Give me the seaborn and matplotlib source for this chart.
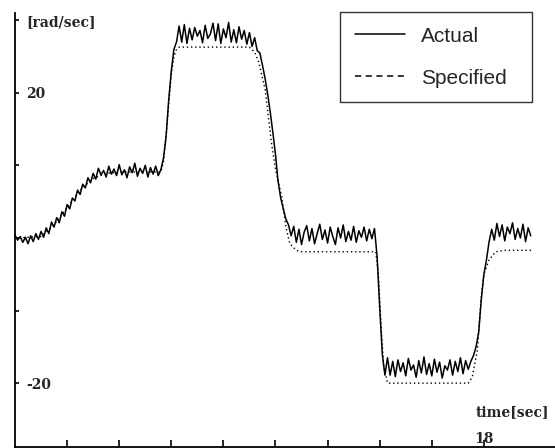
import numpy as np
import pandas as pd
import seaborn as sns
import matplotlib
matplotlib.use('Agg')
import matplotlib.pyplot as plt
from matplotlib.lines import Line2D

# 实测角速度 (rad/sec)，每0.1秒一个采样点，从0秒开始
sample_step = 0.1
actual = [
    0.4, -0.3, 0.2, -0.6, 0.1, -0.8, 0.3, -0.5, 0.6, -0.2,
    0.9, 0.1, 1.4, 0.6, 2.2, 1.5, 2.8, 2.1, 3.6, 3.0,
    4.6, 4.0, 5.5, 5.1, 6.6, 6.0, 7.4, 6.9, 8.3, 7.6,
    8.9, 8.1, 9.6, 8.7, 9.3, 8.4, 9.9, 8.8, 9.5, 8.6,
    10.1, 8.7, 9.4, 8.3, 9.8, 9.0, 10.3, 8.5, 9.6, 8.9,
    10.0, 8.4, 9.7, 8.8, 9.9, 8.6, 9.4, 11.0, 14.0, 19.0,
    23.0, 26.0, 27.0, 29.2, 27.0, 29.4, 26.8, 28.9, 27.3, 29.0,
    27.8, 28.6, 26.9, 29.3, 27.5, 28.1, 29.6, 27.2, 29.5, 26.8,
    28.8, 27.6, 29.7, 27.0, 28.7, 26.9, 29.1, 27.4, 28.6, 26.7,
    28.3, 26.4, 27.6, 25.8, 25.5, 23.8, 22.0, 19.8, 17.3, 14.5,
    11.5, 7.8, 5.5, 4.0, 2.6, 1.8, 0.3, 1.6, -0.6, 1.2,
    -0.9, 0.8, 1.7, -0.4, 1.3, -0.8, 0.6, 1.9, -0.2, 1.1,
    -0.7, 1.5, 0.2, -0.9, 1.4, 0.0, 1.8, -0.5, 0.9, -0.3,
    1.6, -0.6, 1.0, 0.1, 1.5, -0.4, 1.2, -0.1, 1.3, -2.5,
    -9.5, -16.0, -18.9, -16.5, -18.9, -17.0, -19.1, -16.8, -18.4, -17.2,
    -19.0, -16.6, -18.2, -17.5, -19.2, -16.9, -18.6, -16.4, -18.8, -17.3,
    -19.0, -16.7, -18.5, -17.1, -19.3, -17.6, -18.2, -16.8, -18.9, -17.0,
    -18.4, -16.5, -18.7, -16.9, -18.1, -17.0, -16.2, -15.0, -13.0, -8.5,
    -5.0, -3.0, -0.5, 1.2, -0.3, 2.0, 0.2, 1.8, -0.4, 1.5,
    0.6, 2.1, -0.2, 1.3, 0.0, 1.9, -0.5, 1.4, 0.3,
]

# 指令角速度的折点
spec_time = [0.0, 1.0, 1.5, 2.0, 2.5, 3.0, 3.5, 4.0, 5.6, 5.7, 5.8, 5.9, 6.0, 6.1, 6.2, 6.3,
             9.0, 9.2, 9.35, 9.6, 9.7, 9.85, 10.0, 10.25, 10.4, 10.55, 10.8, 11.0,
             13.85, 13.95, 14.05, 14.15, 14.3, 17.4, 17.55, 17.75, 17.9, 18.0, 18.2,
             18.45, 18.8, 19.85]
spec_value = [0.0, 0.2, 1.8, 4.2, 6.6, 8.2, 8.9, 9.1, 9.1, 10.5, 14.0, 18.5, 22.5, 25.0, 26.0, 26.3,
              26.3, 25.6, 24.3, 20.5, 17.5, 13.0, 9.5, 5.5, 1.5, -0.8, -1.7, -1.9,
              -1.9, -5.0, -12.0, -17.5, -20.0, -20.0, -19.2, -15.5, -8.0, -5.0, -3.0,
              -1.9, -1.7, -1.7]

y_ticks = [30, 20, 10, 0, -10, -20]
y_tick_labels = ['[rad/sec]', '20', '', '', '', '-20']
x_ticks = [2, 4, 6, 8, 10, 12, 14, 16, 18]
x_tick_labels = ['', '', '', '', '', '', '', '', '18']

df_act = pd.DataFrame({'time': np.arange(len(actual)) * sample_step, 'value': actual})
df_spec = pd.DataFrame({'time': spec_time, 'value': spec_value})

sns.set_theme(style='white')
plt.rcParams['font.family'] = ['Liberation Sans', 'DejaVu Sans']

fig = plt.figure(figsize=(5.55, 4.48), dpi=100)
ax = fig.add_axes([15 / 555, 1 / 448, 540 / 555, 434 / 448])

sns.lineplot(data=df_spec, x='time', y='value', ax=ax, color='black',
             linewidth=1.0, linestyle=(0, (1, 2)))
sns.lineplot(data=df_act, x='time', y='value', ax=ax, color='black', linewidth=1.1)

ax.set_xlim(0, 20.73)
ax.set_ylim(-28.8, 31.0)
sns.despine(ax=ax)
for s in ['left', 'bottom']:
    ax.spines[s].set_color('black')
    ax.spines[s].set_linewidth(1.3)

tick_font = dict(family='DejaVu Serif', weight='bold', size=10)
ax.set_yticks(y_ticks)
ax.set_yticklabels(y_tick_labels, fontdict=tick_font)
for lab in ax.get_yticklabels():
    lab.set_horizontalalignment('left')
ax.set_xticks(x_ticks)
ax.set_xticklabels(x_tick_labels, fontdict=tick_font)
ax.tick_params(axis='y', direction='in', length=3, width=1.2, color='black', pad=-8, left=True)
ax.tick_params(axis='x', direction='in', length=5, width=1.2, color='black', pad=-11, bottom=True)

ax.set_ylabel('')
ax.set_xlabel('time[sec]', fontdict=tick_font, ha='right', va='center')
ax.xaxis.set_label_coords(0.99, 0.08)

handles = [Line2D([], [], color='black', linewidth=1.1),
           Line2D([], [], color='black', linewidth=1.1, linestyle=(0, (4, 3)))]
leg = ax.legend(handles, ['Actual', 'Specified'], loc='upper left', mode='expand',
                bbox_to_anchor=(340 / 555, 1 - 107 / 448, 192 / 555, 95 / 448),
                bbox_transform=fig.transFigure,
                borderaxespad=0, fontsize=15, frameon=True, fancybox=False,
                handlelength=2.4, handletextpad=0.77, labelspacing=1.1,
                borderpad=0.7, edgecolor='black')
leg.get_frame().set_linewidth(1.0)

fig.savefig('out.png', dpi=100)
